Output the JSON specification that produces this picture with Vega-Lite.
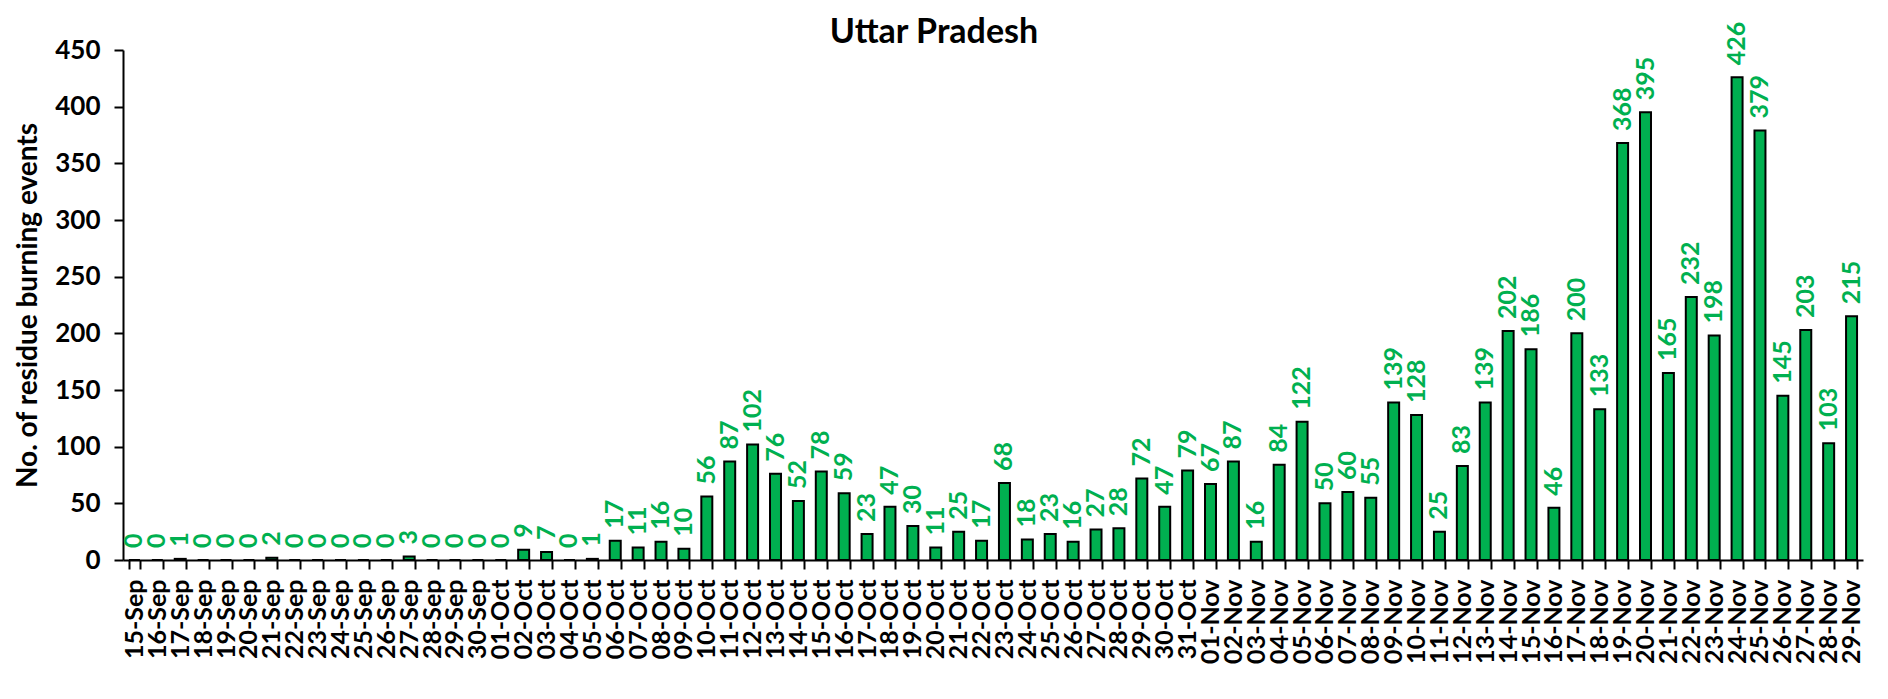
{
  "$schema": "https://vega.github.io/schema/vega-lite/v6.json",
  "autosize": {"type": "none"},
  "width": 1740,
  "height": 510,
  "padding": {"left": 123, "top": 50, "right": 25, "bottom": 139},
  "background": "white",
  "title": {
    "text": "Uttar Pradesh",
    "font": "Lato",
    "fontSize": 34,
    "fontWeight": "bold",
    "color": "black",
    "anchor": "middle",
    "frame": "group",
    "dx": -59,
    "baseline": "alphabetic",
    "offset": -55
  },
  "config": {
    "view": {"stroke": null},
    "font": "Lato"
  },
  "data": {
    "values": [
      {"date": "15-Sep", "count": 0}, {"date": "16-Sep", "count": 0}, {"date": "17-Sep", "count": 1},
      {"date": "18-Sep", "count": 0}, {"date": "19-Sep", "count": 0}, {"date": "20-Sep", "count": 0},
      {"date": "21-Sep", "count": 2}, {"date": "22-Sep", "count": 0}, {"date": "23-Sep", "count": 0},
      {"date": "24-Sep", "count": 0}, {"date": "25-Sep", "count": 0}, {"date": "26-Sep", "count": 0},
      {"date": "27-Sep", "count": 3}, {"date": "28-Sep", "count": 0}, {"date": "29-Sep", "count": 0},
      {"date": "30-Sep", "count": 0}, {"date": "01-Oct", "count": 0}, {"date": "02-Oct", "count": 9},
      {"date": "03-Oct", "count": 7}, {"date": "04-Oct", "count": 0}, {"date": "05-Oct", "count": 1},
      {"date": "06-Oct", "count": 17}, {"date": "07-Oct", "count": 11}, {"date": "08-Oct", "count": 16},
      {"date": "09-Oct", "count": 10}, {"date": "10-Oct", "count": 56}, {"date": "11-Oct", "count": 87},
      {"date": "12-Oct", "count": 102}, {"date": "13-Oct", "count": 76}, {"date": "14-Oct", "count": 52},
      {"date": "15-Oct", "count": 78}, {"date": "16-Oct", "count": 59}, {"date": "17-Oct", "count": 23},
      {"date": "18-Oct", "count": 47}, {"date": "19-Oct", "count": 30}, {"date": "20-Oct", "count": 11},
      {"date": "21-Oct", "count": 25}, {"date": "22-Oct", "count": 17}, {"date": "23-Oct", "count": 68},
      {"date": "24-Oct", "count": 18}, {"date": "25-Oct", "count": 23}, {"date": "26-Oct", "count": 16},
      {"date": "27-Oct", "count": 27}, {"date": "28-Oct", "count": 28}, {"date": "29-Oct", "count": 72},
      {"date": "30-Oct", "count": 47}, {"date": "31-Oct", "count": 79}, {"date": "01-Nov", "count": 67},
      {"date": "02-Nov", "count": 87}, {"date": "03-Nov", "count": 16}, {"date": "04-Nov", "count": 84},
      {"date": "05-Nov", "count": 122}, {"date": "06-Nov", "count": 50}, {"date": "07-Nov", "count": 60},
      {"date": "08-Nov", "count": 55}, {"date": "09-Nov", "count": 139}, {"date": "10-Nov", "count": 128},
      {"date": "11-Nov", "count": 25}, {"date": "12-Nov", "count": 83}, {"date": "13-Nov", "count": 139},
      {"date": "14-Nov", "count": 202}, {"date": "15-Nov", "count": 186}, {"date": "16-Nov", "count": 46},
      {"date": "17-Nov", "count": 200}, {"date": "18-Nov", "count": 133}, {"date": "19-Nov", "count": 368},
      {"date": "20-Nov", "count": 395}, {"date": "21-Nov", "count": 165}, {"date": "22-Nov", "count": 232},
      {"date": "23-Nov", "count": 198}, {"date": "24-Nov", "count": 426}, {"date": "25-Nov", "count": 379},
      {"date": "26-Nov", "count": 145}, {"date": "27-Nov", "count": 203}, {"date": "28-Nov", "count": 103},
      {"date": "29-Nov", "count": 215}
    ]
  },
  "encoding": {
    "x": {
      "field": "date",
      "type": "nominal",
      "sort": null,
      "scale": {"paddingInner": 0.52, "paddingOuter": 0.26},
      "axis": {
        "title": null,
        "labelAngle": -90,
        "labelAlign": "right",
        "labelBaseline": "middle",
        "labelFont": "Lato",
        "labelFontSize": 25,
        "labelFontWeight": "bold",
        "labelColor": "black",
        "labelPadding": 10,
        "tickBand": "extent",
        "tickSize": 9,
        "tickWidth": 2,
        "tickColor": "black",
        "domainColor": "black",
        "domainWidth": 2,
        "grid": false
      }
    },
    "y": {
      "field": "count",
      "type": "quantitative",
      "scale": {"domain": [0, 450], "nice": false},
      "axis": {
        "title": "No. of residue burning events",
        "titleFont": "Lato",
        "titleFontSize": 28,
        "titleFontWeight": "bold",
        "titleColor": "black",
        "titlePadding": 12,
        "values": [0, 50, 100, 150, 200, 250, 300, 350, 400, 450],
        "labelFont": "Lato",
        "labelFontSize": 26,
        "labelFontWeight": "bold",
        "labelColor": "black",
        "labelPadding": 14,
        "tickSize": 9,
        "tickWidth": 2,
        "tickColor": "black",
        "domainColor": "black",
        "domainWidth": 2,
        "grid": false
      }
    }
  },
  "layer": [
    {
      "mark": {"type": "bar", "color": "#00B050", "stroke": "black", "strokeWidth": 2}
    },
    {
      "mark": {
        "type": "text",
        "angle": 270,
        "align": "left",
        "baseline": "middle",
        "dx": 12,
        "font": "Lato",
        "fontSize": 25,
        "fontWeight": "bold",
        "color": "#00B050"
      },
      "encoding": {"text": {"field": "count", "type": "quantitative"}}
    }
  ]
}
